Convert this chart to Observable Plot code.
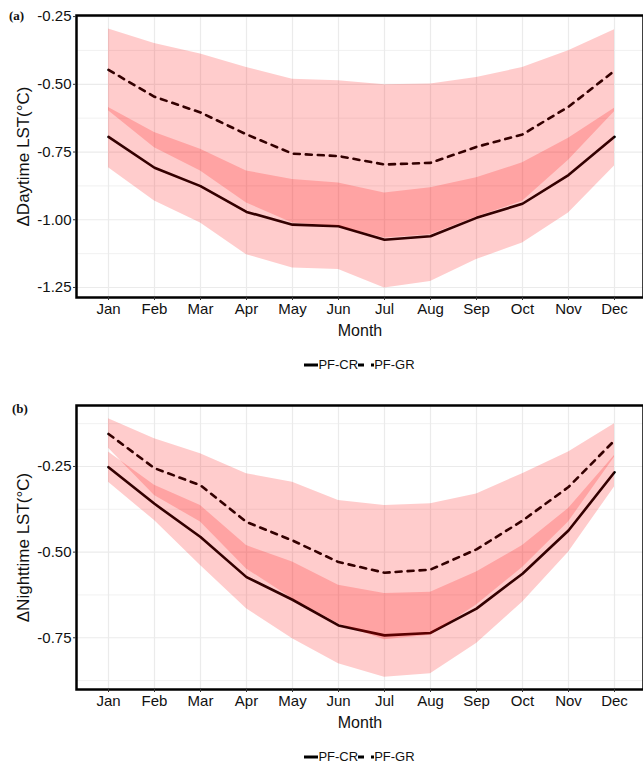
<!DOCTYPE html>
<html><head><meta charset="utf-8">
<script src="https://cdn.jsdelivr.net/npm/d3@7"></script>
<script src="https://cdn.jsdelivr.net/npm/@observablehq/plot@0.6"></script>
<style>
body{margin:0;background:#fff;overflow:hidden;font-family:"Liberation Sans",Arial,sans-serif}
#wrap{position:relative;width:643px;height:765px}
.pn{position:absolute;left:0;z-index:1}
.tag{position:absolute;z-index:5;font-family:"Liberation Serif","DejaVu Serif",serif;font-weight:bold;font-size:13px;color:#111}
.legend{position:absolute;z-index:5;left:76px;width:567px;display:flex;justify-content:center;align-items:center;font-size:13px;color:#111}
.legend svg{display:block}
</style></head>
<body><div id="wrap">
<div class="tag" style="left:9px;top:8px">(a)</div>
<div class="pn" id="pa" style="top:0"></div>
<div class="legend" style="top:357px"><svg width="14" height="10"><line x1="0" x2="14" y1="5" y2="5" stroke="#000" stroke-width="3"/></svg><span>PF-CR</span><svg width="16" height="10"><line x1="0" x2="16" y1="5" y2="5" stroke="#000" stroke-width="3" stroke-dasharray="6,7"/></svg><span>PF-GR</span></div>
<div class="tag" style="left:12px;top:401px">(b)</div>
<div class="pn" id="pb" style="top:390px"></div>
<div class="legend" style="top:749px"><svg width="14" height="10"><line x1="0" x2="14" y1="5" y2="5" stroke="#000" stroke-width="3"/></svg><span>PF-CR</span><svg width="16" height="10"><line x1="0" x2="16" y1="5" y2="5" stroke="#000" stroke-width="3" stroke-dasharray="6,7"/></svg><span>PF-GR</span></div>
</div>
<script>
const months = ["Jan","Feb","Mar","Apr","May","Jun","Jul","Aug","Sep","Oct","Nov","Dec"];

// (a) Daytime LST difference
const dayCR   = [-0.694,-0.808,-0.876,-0.971,-1.018,-1.024,-1.074,-1.061,-0.993,-0.941,-0.835,-0.694];
const dayCRlo = [-0.808,-0.931,-1.012,-1.129,-1.178,-1.184,-1.252,-1.228,-1.147,-1.086,-0.975,-0.802];
const dayCRhi = [-0.586,-0.678,-0.740,-0.820,-0.851,-0.864,-0.901,-0.882,-0.845,-0.790,-0.699,-0.588];
const dayGR   = [-0.447,-0.546,-0.604,-0.685,-0.756,-0.765,-0.796,-0.790,-0.731,-0.685,-0.583,-0.450];
const dayGRlo = [-0.598,-0.734,-0.820,-0.938,-1.012,-1.024,-1.067,-1.055,-0.990,-0.932,-0.780,-0.601];
const dayGRhi = [-0.296,-0.349,-0.388,-0.438,-0.481,-0.487,-0.502,-0.499,-0.475,-0.438,-0.376,-0.299];

// (b) Nighttime LST difference
const nightCR   = [-0.252,-0.359,-0.456,-0.573,-0.639,-0.714,-0.743,-0.736,-0.665,-0.563,-0.437,-0.267];
const nightCRlo = [-0.296,-0.408,-0.539,-0.665,-0.753,-0.826,-0.865,-0.855,-0.767,-0.646,-0.500,-0.310];
const nightCRhi = [-0.208,-0.305,-0.364,-0.481,-0.529,-0.597,-0.621,-0.617,-0.558,-0.481,-0.373,-0.218];
const nightGR   = [-0.155,-0.255,-0.305,-0.412,-0.466,-0.529,-0.560,-0.551,-0.492,-0.408,-0.310,-0.174];
const nightGRlo = [-0.197,-0.335,-0.412,-0.549,-0.636,-0.709,-0.756,-0.743,-0.654,-0.545,-0.412,-0.223];
const nightGRhi = [-0.111,-0.169,-0.213,-0.271,-0.296,-0.349,-0.364,-0.359,-0.330,-0.271,-0.208,-0.125];

const dayTicks = [-1.25,-1.00,-0.75,-0.50,-0.25];
const dayMinor = [-1.125,-0.875,-0.625,-0.375];
const nightTicks = [-0.75,-0.50,-0.25];
const nightMinor = [-0.875,-0.625,-0.375,-0.125];

function panel(o){
  const rows = months.map((m,i)=>({month:m, cr:o.cr[i], crLo:o.crLo[i], crHi:o.crHi[i], gr:o.gr[i], grLo:o.grLo[i], grHi:o.grHi[i]}));
  const fmt = d => d.toFixed(2);
  return Plot.plot({
    width:643, height:o.height, marginTop:15, marginBottom:o.height-15-o.inner, marginLeft:76, marginRight:0,
    style:{fontFamily:"'Liberation Sans', Arial, sans-serif", fontSize:"15px", color:"#111", background:"transparent", overflow:"visible"},
    x:{type:"point", domain:months, range:[104,618], padding:0},
    y:{domain:o.domain},
    marks:[
      Plot.gridY(o.minor,{stroke:"#ebebeb", strokeOpacity:1, strokeWidth:0.7}),
      Plot.gridY(o.ticks,{stroke:"#ebebeb", strokeOpacity:1, strokeWidth:1.2}),
      Plot.gridX(months,{stroke:"#ebebeb", strokeOpacity:1, strokeWidth:1.2}),
      Plot.lineY(rows,{x:"month", y:"cr", stroke:"#000", strokeWidth:2.6}),
      Plot.lineY(rows,{x:"month", y:"gr", stroke:"#000", strokeWidth:2.6, strokeDasharray:"6,6"}),
      Plot.areaY(rows,{x:"month", y1:"crLo", y2:"crHi", fill:"red", fillOpacity:0.2}),
      Plot.areaY(rows,{x:"month", y1:"grLo", y2:"grHi", fill:"red", fillOpacity:0.2}),
      Plot.frame({stroke:"#000", strokeWidth:2.5}),
      Plot.axisY(o.ticks,{tickFormat:fmt, tickSize:3, tickPadding:2, label:null, fontSize:15, stroke:"#333"}),
      Plot.axisY([],{tickSize:0, label:o.ylabel, labelAnchor:"center", labelArrow:"none", labelOffset:60, fontSize:17}),
      Plot.axisX(months,{tickSize:3, tickPadding:3, label:null, fontSize:15, stroke:"#333"}),
      Plot.axisX([],{tickSize:0, label:"Month", labelAnchor:"center", labelArrow:"none", labelOffset:38, fontSize:16})
    ]
  });
}

document.getElementById("pa").append(panel({
  cr:dayCR, crLo:dayCRlo, crHi:dayCRhi, gr:dayGR, grLo:dayGRlo, grHi:dayGRhi,
  domain:[-1.287,-0.246], ticks:dayTicks, minor:dayMinor, ylabel:"ΔDaytime LST(°C)", height:345, inner:282
}));
document.getElementById("pb").append(panel({
  cr:nightCR, crLo:nightCRlo, crHi:nightCRhi, gr:nightGR, grLo:nightGRlo, grHi:nightGRhi,
  domain:[-0.901,-0.072], ticks:nightTicks, minor:nightMinor, ylabel:"ΔNighttime LST(°C)", height:345, inner:284
}));
</script>
</body></html>
